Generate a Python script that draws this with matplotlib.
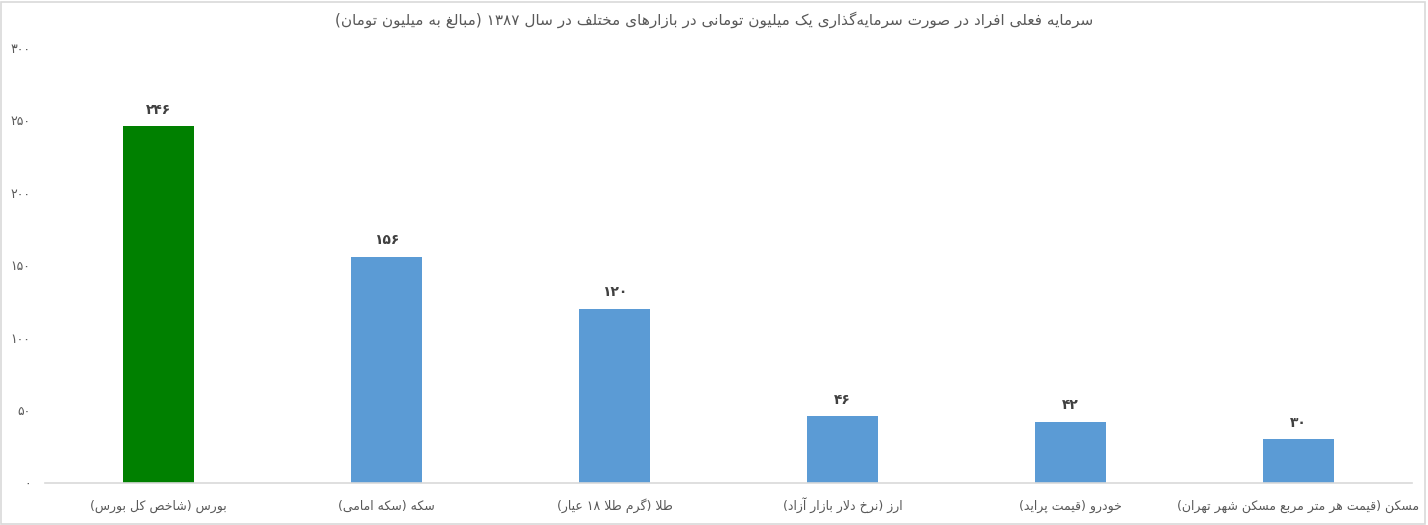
import re
import matplotlib
matplotlib.use("Agg")
import matplotlib.pyplot as plt

# ---------------------------------------------------------
# DATA
# ---------------------------------------------------------
title = "سرمایه فعلی افراد در صورت سرمایه\u200cگذاری یک میلیون تومانی در بازارهای مختلف در سال ۱۳۸۷ (مبالغ به میلیون تومان)"
categories = [
    "بورس (شاخص کل بورس)",
    "سکه (سکه امامی)",
    "طلا (گرم طلا ۱۸ عیار)",
    "ارز (نرخ دلار بازار آزاد)",
    "خودرو (قیمت پراید)",
    "مسکن (قیمت هر متر مربع مسکن شهر تهران)",
]
values = [246, 156, 120, 46, 42, 30]
bar_colors = ["#008000", "#5B9BD5", "#5B9BD5", "#5B9BD5", "#5B9BD5", "#5B9BD5"]
yticks = [0, 50, 100, 150, 200, 250, 300]

# ---------------------------------------------------------
# simple Persian shaping + RTL ordering (matplotlib does no shaping)
# forms: isolated, final, initial, medial
# ---------------------------------------------------------
def _r(a):
    return tuple(chr(c) for c in range(a, a + 4))

FORMS = {
    'ا': ('\uFE8D', '\uFE8E', None, None),
    'آ': ('\uFE81', '\uFE82', None, None),
    'ب': _r(0xFE8F), 'ت': _r(0xFE95), 'ث': _r(0xFE99), 'ج': _r(0xFE9D),
    'ح': _r(0xFEA1), 'خ': _r(0xFEA5),
    'د': ('\uFEA9', '\uFEAA', None, None), 'ذ': ('\uFEAB', '\uFEAC', None, None),
    'ر': ('\uFEAD', '\uFEAE', None, None), 'ز': ('\uFEAF', '\uFEB0', None, None),
    'ژ': ('\uFB8A', '\uFB8B', None, None),
    'س': _r(0xFEB1), 'ش': _r(0xFEB5), 'ص': _r(0xFEB9), 'ض': _r(0xFEBD),
    'ط': _r(0xFEC1), 'ظ': _r(0xFEC5), 'ع': _r(0xFEC9), 'غ': _r(0xFECD),
    'ف': _r(0xFED1), 'ق': _r(0xFED5), 'ك': _r(0xFED9), 'ل': _r(0xFEDD),
    'م': _r(0xFEE1), 'ن': _r(0xFEE5), 'ه': _r(0xFEE9),
    'و': ('\uFEED', '\uFEEE', None, None),
    'ي': _r(0xFEF1), 'ی': _r(0xFBFC), 'ک': _r(0xFB8E), 'گ': _r(0xFB92),
    'پ': _r(0xFB56), 'چ': _r(0xFB7A),
}
LAM_ALEF = {'ا': ('\uFEFB', '\uFEFC'), 'آ': ('\uFEF5', '\uFEF6')}


def joins_forward(ch):
    return ch in FORMS and FORMS[ch][2] is not None


def shape(text):
    out = []
    i = 0
    n = len(text)
    while i < n:
        ch = text[i]
        if ch not in FORMS:
            out.append(ch)
            i += 1
            continue
        prev = text[i - 1] if i > 0 else ''
        conn_prev = joins_forward(prev)
        if ch == 'ل' and i + 1 < n and text[i + 1] in LAM_ALEF:
            out.append(LAM_ALEF[text[i + 1]][1 if conn_prev else 0])
            i += 2
            continue
        nxt = text[i + 1] if i + 1 < n else ''
        conn_next = joins_forward(ch) and nxt in FORMS
        iso, fin, ini, med = FORMS[ch]
        if conn_prev and conn_next:
            out.append(med)
        elif conn_prev:
            out.append(fin)
        elif conn_next:
            out.append(ini)
        else:
            out.append(iso)
        i += 1
    s = ''.join(out).replace('\u200c', '')
    vis = s[::-1]
    vis = re.sub(r'[0-9\u06F0-\u06F9]+', lambda m: m.group(0)[::-1], vis)
    vis = vis.translate(str.maketrans('()', ')('))
    return vis


def fa_digits(v):
    return str(v).translate(str.maketrans('0123456789', '۰۱۲۳۴۵۶۷۸۹'))


plt.rcParams['font.family'] = ['DejaVu Sans']

# ---------------------------------------------------------
# PLOT
# ---------------------------------------------------------
fig = plt.figure(figsize=(14.28, 5.25), dpi=100)
ax = fig.add_axes([0.0312, 0.08, 0.9578, 0.8286])

x = list(range(len(categories)))
bars = ax.bar(x, values, width=0.31, color=bar_colors, zorder=2)

for rect, v in zip(bars, values):
    ax.annotate(fa_digits(v), (rect.get_x() + rect.get_width() / 2, v),
                xytext=(0, 7), textcoords="offset points",
                ha="center", va="bottom", fontsize=10, fontweight="bold",
                color="#404040")

ax.set_xlim(-0.5, len(categories) - 0.5)
ax.set_ylim(0, 300)
ax.set_yticks(yticks)
ax.set_yticklabels([fa_digits(t) for t in yticks], fontsize=9, color="#595959")
ax.set_xticks(x)
ax.set_xticklabels([shape(c) for c in categories], fontsize=9, color="#595959")
ax.tick_params(axis="both", length=0)
ax.tick_params(axis="x", pad=19)
ax.tick_params(axis="y", pad=10)
for lbl in ax.get_xticklabels():
    lbl.set_va("baseline")

for side in ["top", "right", "left"]:
    ax.spines[side].set_visible(False)
ax.spines["bottom"].set_color("#d9d9d9")
ax.spines["bottom"].set_linewidth(1.2)

fig.text(0.5, 0.962, shape(title), ha="center", va="center",
         fontsize=11, color="#595959")

# light frame around the chart
fig.patches.append(plt.Rectangle((0.001, 0.002), 0.997, 0.995, transform=fig.transFigure,
                                 fill=False, edgecolor="#d9d9d9", linewidth=1.2))

fig.savefig("out.png", dpi=100)
